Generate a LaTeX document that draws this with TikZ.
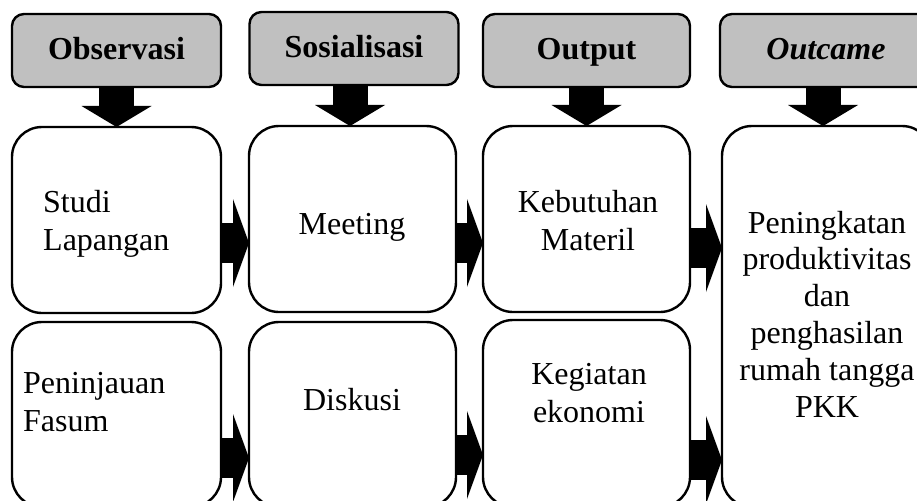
\documentclass[tikz,border=0pt]{standalone}
\usepackage{fontspec}
\setmainfont{Liberation Serif}
\usepackage{tikz}
\usetikzlibrary{arrows.meta,positioning}
\definecolor{headgray}{RGB}{192,192,192}

\begin{document}
\begin{tikzpicture}[
    x=1pt,y=-1pt,
    font=\fontsize{32pt}{38pt}\selectfont,
    head/.style={rectangle,draw,line width=2.4pt,fill=headgray,rounded corners=12pt,minimum width=209pt,minimum height=73pt,inner sep=0pt,outer sep=0pt,text height=22pt,text depth=3pt,font=\fontsize{32pt}{38pt}\selectfont\bfseries},
    card/.style={rectangle,draw,line width=2.4pt,fill=white,rounded corners=30pt,minimum width=207pt,inner sep=0pt,outer sep=0pt},
    txt/.style={inner sep=0pt,align=center,anchor=base},
    down/.style={-{Triangle[length=21pt,width=70pt,line width=0pt]},line width=35pt},
    push/.style={-{Triangle[length=16pt,width=88pt,line width=0pt]},line width=40pt}
    ]

    \clip (0,0) rectangle (917,500);
    \useasboundingbox (0,0) rectangle (917,500);

    \node[head] (obs) at (116.5,50.5) {Observasi};
    \node[head] (sos) at (354,48.5) {Sosialisasi};
    \node[head,minimum width=207pt] (out) at (586.5,50.5) {Output};
    \node[head,minimum width=212pt] (outc) at (826,50.5) {\itshape Outcame};

    \node[card,minimum width=209pt,minimum height=186pt] (studi) at (116.5,220) {};
    \node[card,minimum width=209pt,minimum height=185pt] (tinjau) at (116.5,414.5) {};
    \node[card,minimum height=186pt] (meet) at (352.5,219) {};
    \node[card,minimum height=185pt] (diskusi) at (352.5,414.5) {};
    \node[card,minimum height=186pt] (materil) at (586.5,219) {};
    \node[card,minimum height=187pt] (ekonomi) at (586.5,413.5) {};
    \node[card,minimum width=210pt,minimum height=381pt] (hasil) at (827,316.5) {};

    \node[txt,anchor=base west,align=left] (studiT) at (43,250) {Studi\\Lapangan};
    \node[txt] (meetT) at (352,234) {Meeting};
    \node[txt] (materilT) at (588,250) {Kebutuhan\\Materil};
    \node[txt,anchor=base west,align=left] (tinjauT) at (23,431) {Peninjauan\\Fasum};
    \node[txt] (diskusiT) at (352,410) {Diskusi};
    \node[txt] (ekonomiT) at (589,422) {Kegiatan\\ekonomi};
    \node[txt,font=\fontsize{32pt}{36.8pt}\selectfont] (hasilT) at (827,417) {Peningkatan\\produktivitas\\dan\\penghasilan\\rumah tangga\\PKK};

    \draw[down] (obs.south) -- (obs.south |- studi.north);
    \draw[down] ([xshift=-4pt]sos.south) -- ([xshift=-4pt]sos.south |- meet.north);
    \draw[down] (out.south) -- (out.south |- materil.north);
    \draw[down] ([xshift=-3pt]outc.south) -- ([xshift=-3pt]outc.south |- hasil.north);

    \draw[push] (studi.east |- 0,243) -- (meet.west |- 0,243);
    \draw[push] (meet.east |- 0,243) -- (materil.west |- 0,243);
    \draw[push] (materil.east |- 0,248) -- (hasil.west |- 0,248);
    \draw[push] (tinjau.east |- 0,458) -- (diskusi.west |- 0,458);
    \draw[push] (diskusi.east |- 0,455) -- (ekonomi.west |- 0,455);
    \draw[push] (ekonomi.east |- 0,460) -- (hasil.west |- 0,460);

  \end{tikzpicture}
\end{document}
